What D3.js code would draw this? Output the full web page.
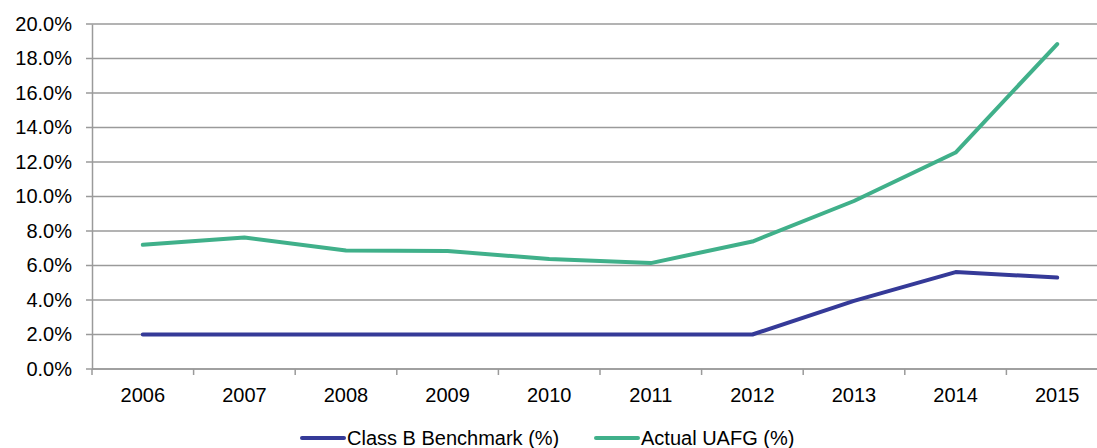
<!DOCTYPE html>
<html>
<head>
<meta charset="utf-8">
<script src="https://cdn.jsdelivr.net/npm/d3@7"></script>
<style>
  html, body { margin: 0; padding: 0; background: #fff; }
  svg { display: block; font-family: "Liberation Sans", Arial, sans-serif; }
</style>
</head>
<body>
<svg id="chart" width="1097" height="448"></svg>
<script>
// Years on the category axis
const years = ["2006", "2007", "2008", "2009", "2010", "2011", "2012", "2013", "2014", "2015"];
// Unaccounted-for gas, percent
const benchmark = [2.0, 2.0, 2.0, 2.0, 2.0, 2.0, 2.0, 3.95, 5.62, 5.3];
const actualUAFG = [7.2, 7.62, 6.87, 6.84, 6.38, 6.14, 7.39, 9.74, 12.55, 18.84];
// Value axis ticks
const yTicks = [0, 2, 4, 6, 8, 10, 12, 14, 16, 18, 20];
const seriesNames = ["Class B Benchmark (%)", "Actual UAFG (%)"];
const seriesColors = ["#353a98", "#40b08a"];

const svg = d3.select("#chart");
const plot = { left: 92, right: 1108, top: 24, bottom: 369 };
const fontSize = 20;

const x = d3.scaleBand().domain(years).range([plot.left, plot.right]);
const y = d3.scaleLinear().domain([0, 20]).range([plot.bottom, plot.top]);

const gridColor = "#9a9a9a";

// horizontal gridlines
svg.append("g")
  .selectAll("line")
  .data(yTicks)
  .join("line")
  .attr("x1", plot.left - 6).attr("x2", plot.right)
  .attr("y1", d => y(d)).attr("y2", d => y(d))
  .attr("stroke", gridColor).attr("stroke-width", 1.5);

// value axis
const yAxis = svg.append("g")
  .attr("transform", `translate(${plot.left},0)`)
  .call(d3.axisLeft(y).tickValues(yTicks).tickSize(0).tickPadding(20)
    .tickFormat(d => d.toFixed(1) + "%"));
yAxis.select(".domain").attr("stroke", gridColor).attr("stroke-width", 1.5);
yAxis.selectAll("text").attr("font-size", fontSize).attr("fill", "#000")
  .attr("font-family", "'Liberation Sans', Arial, sans-serif");

// category axis with ticks between categories
const xAxisG = svg.append("g").attr("transform", `translate(0,${plot.bottom})`);
xAxisG.append("line")
  .attr("x1", plot.left).attr("x2", plot.right).attr("y1", 0).attr("y2", 0)
  .attr("stroke", gridColor).attr("stroke-width", 1.5);
xAxisG.selectAll("line.tick")
  .data(years)
  .join("line").attr("class", "tick")
  .attr("x1", d => x(d)).attr("x2", d => x(d))
  .attr("y1", 0).attr("y2", 6)
  .attr("stroke", gridColor).attr("stroke-width", 1.5);
xAxisG.selectAll("text")
  .data(years)
  .join("text")
  .attr("x", d => x(d) + x.bandwidth() / 2)
  .attr("y", 33)
  .attr("text-anchor", "middle")
  .attr("font-size", fontSize)
  .attr("fill", "#000")
  .text(d => d);

// series lines
const line = d3.line()
  .x((d, i) => x(years[i]) + x.bandwidth() / 2)
  .y(d => y(d));

[benchmark, actualUAFG].forEach((vals, k) => {
  svg.append("path")
    .datum(vals)
    .attr("d", line)
    .attr("fill", "none")
    .attr("stroke", seriesColors[k])
    .attr("stroke-width", 4)
    .attr("stroke-linejoin", "round")
    .attr("stroke-linecap", "round");
});

// legend
const legendItems = [
  { x: 302, name: seriesNames[0], color: seriesColors[0] },
  { x: 596, name: seriesNames[1], color: seriesColors[1] }
];
const legend = svg.append("g").attr("transform", "translate(0,438)");
legendItems.forEach(it => {
  legend.append("line")
    .attr("x1", it.x).attr("x2", it.x + 42)
    .attr("y1", 0).attr("y2", 0)
    .attr("stroke", it.color).attr("stroke-width", 4)
    .attr("stroke-linecap", "round");
  legend.append("text")
    .attr("x", it.x + 45).attr("y", 7)
    .attr("font-size", fontSize).attr("fill", "#000")
    .text(it.name);
});
</script>
</body>
</html>
